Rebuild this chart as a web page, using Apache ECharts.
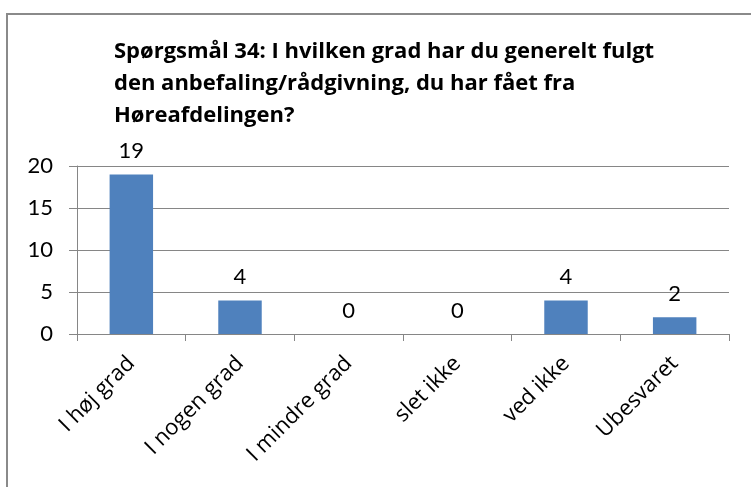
<!DOCTYPE html>
<html>
<head>
<meta charset="utf-8">
<script src="https://cdn.jsdelivr.net/npm/echarts@6/dist/echarts.min.js"></script>
<style>
  html, body { margin: 0; padding: 0; background: #fff; }
  #chart { width: 751px; height: 487px; }
</style>
</head>
<body>
<div id="chart"></div>
<script>
let categories = ['I høj grad', 'I nogen grad', 'I mindre grad', 'slet ikke', 'ved ikke', 'Ubesvaret'];
let counts = [19, 4, 0, 0, 4, 2];
let titleLines = [
    'Spørgsmål 34: I hvilken grad har du generelt fulgt',
    'den anbefaling/rådgivning, du har fået fra',
    'Høreafdelingen?'
];

let font = 'Lato';
let wideFont = 'Open Sans';

let option = {
    animation: false,
    title: {
        text: titleLines.join('\n'),
        left: 109,
        top: 31,
        textStyle: {
            fontFamily: wideFont,
            fontWeight: 'bold',
            fontSize: 22,
            lineHeight: 32,
            color: '#000'
        }
    },
    graphic: [{
        type: 'rect',
        shape: { x: 7, y: 14, width: 800, height: 520 },
        style: { fill: 'none', stroke: '#8a8a8a', lineWidth: 2 }
    }],
    grid: {
        left: 77,
        right: 22,
        top: 166,
        bottom: 153
    },
    xAxis: {
        type: 'category',
        data: categories,
        axisLine: { lineStyle: { color: '#868686', width: 1 } },
        axisTick: { show: true, length: 7, lineStyle: { color: '#868686' } },
        axisLabel: {
            rotate: 45,
            interval: 0,
            margin: 26,
            fontFamily: wideFont,
            fontSize: 22,
            color: '#000'
        }
    },
    yAxis: {
        type: 'value',
        min: 0,
        max: 20,
        interval: 5,
        axisLine: { show: true, lineStyle: { color: '#868686', width: 1 } },
        axisTick: { show: true, length: 8, lineStyle: { color: '#868686' } },
        splitLine: { lineStyle: { color: '#868686', width: 1 } },
        axisLabel: {
            margin: 24,
            fontFamily: font,
            fontSize: 22,
            color: '#000'
        }
    },
    series: [{
        type: 'bar',
        data: counts,
        barWidth: '40%',
        itemStyle: { color: '#4f81bd' },
        label: {
            show: true,
            position: 'top',
            distance: 12,
            fontFamily: font,
            fontSize: 22,
            color: '#000'
        }
    }]
};
echarts.init(document.getElementById('chart')).setOption(option);
</script>
</body>
</html>
